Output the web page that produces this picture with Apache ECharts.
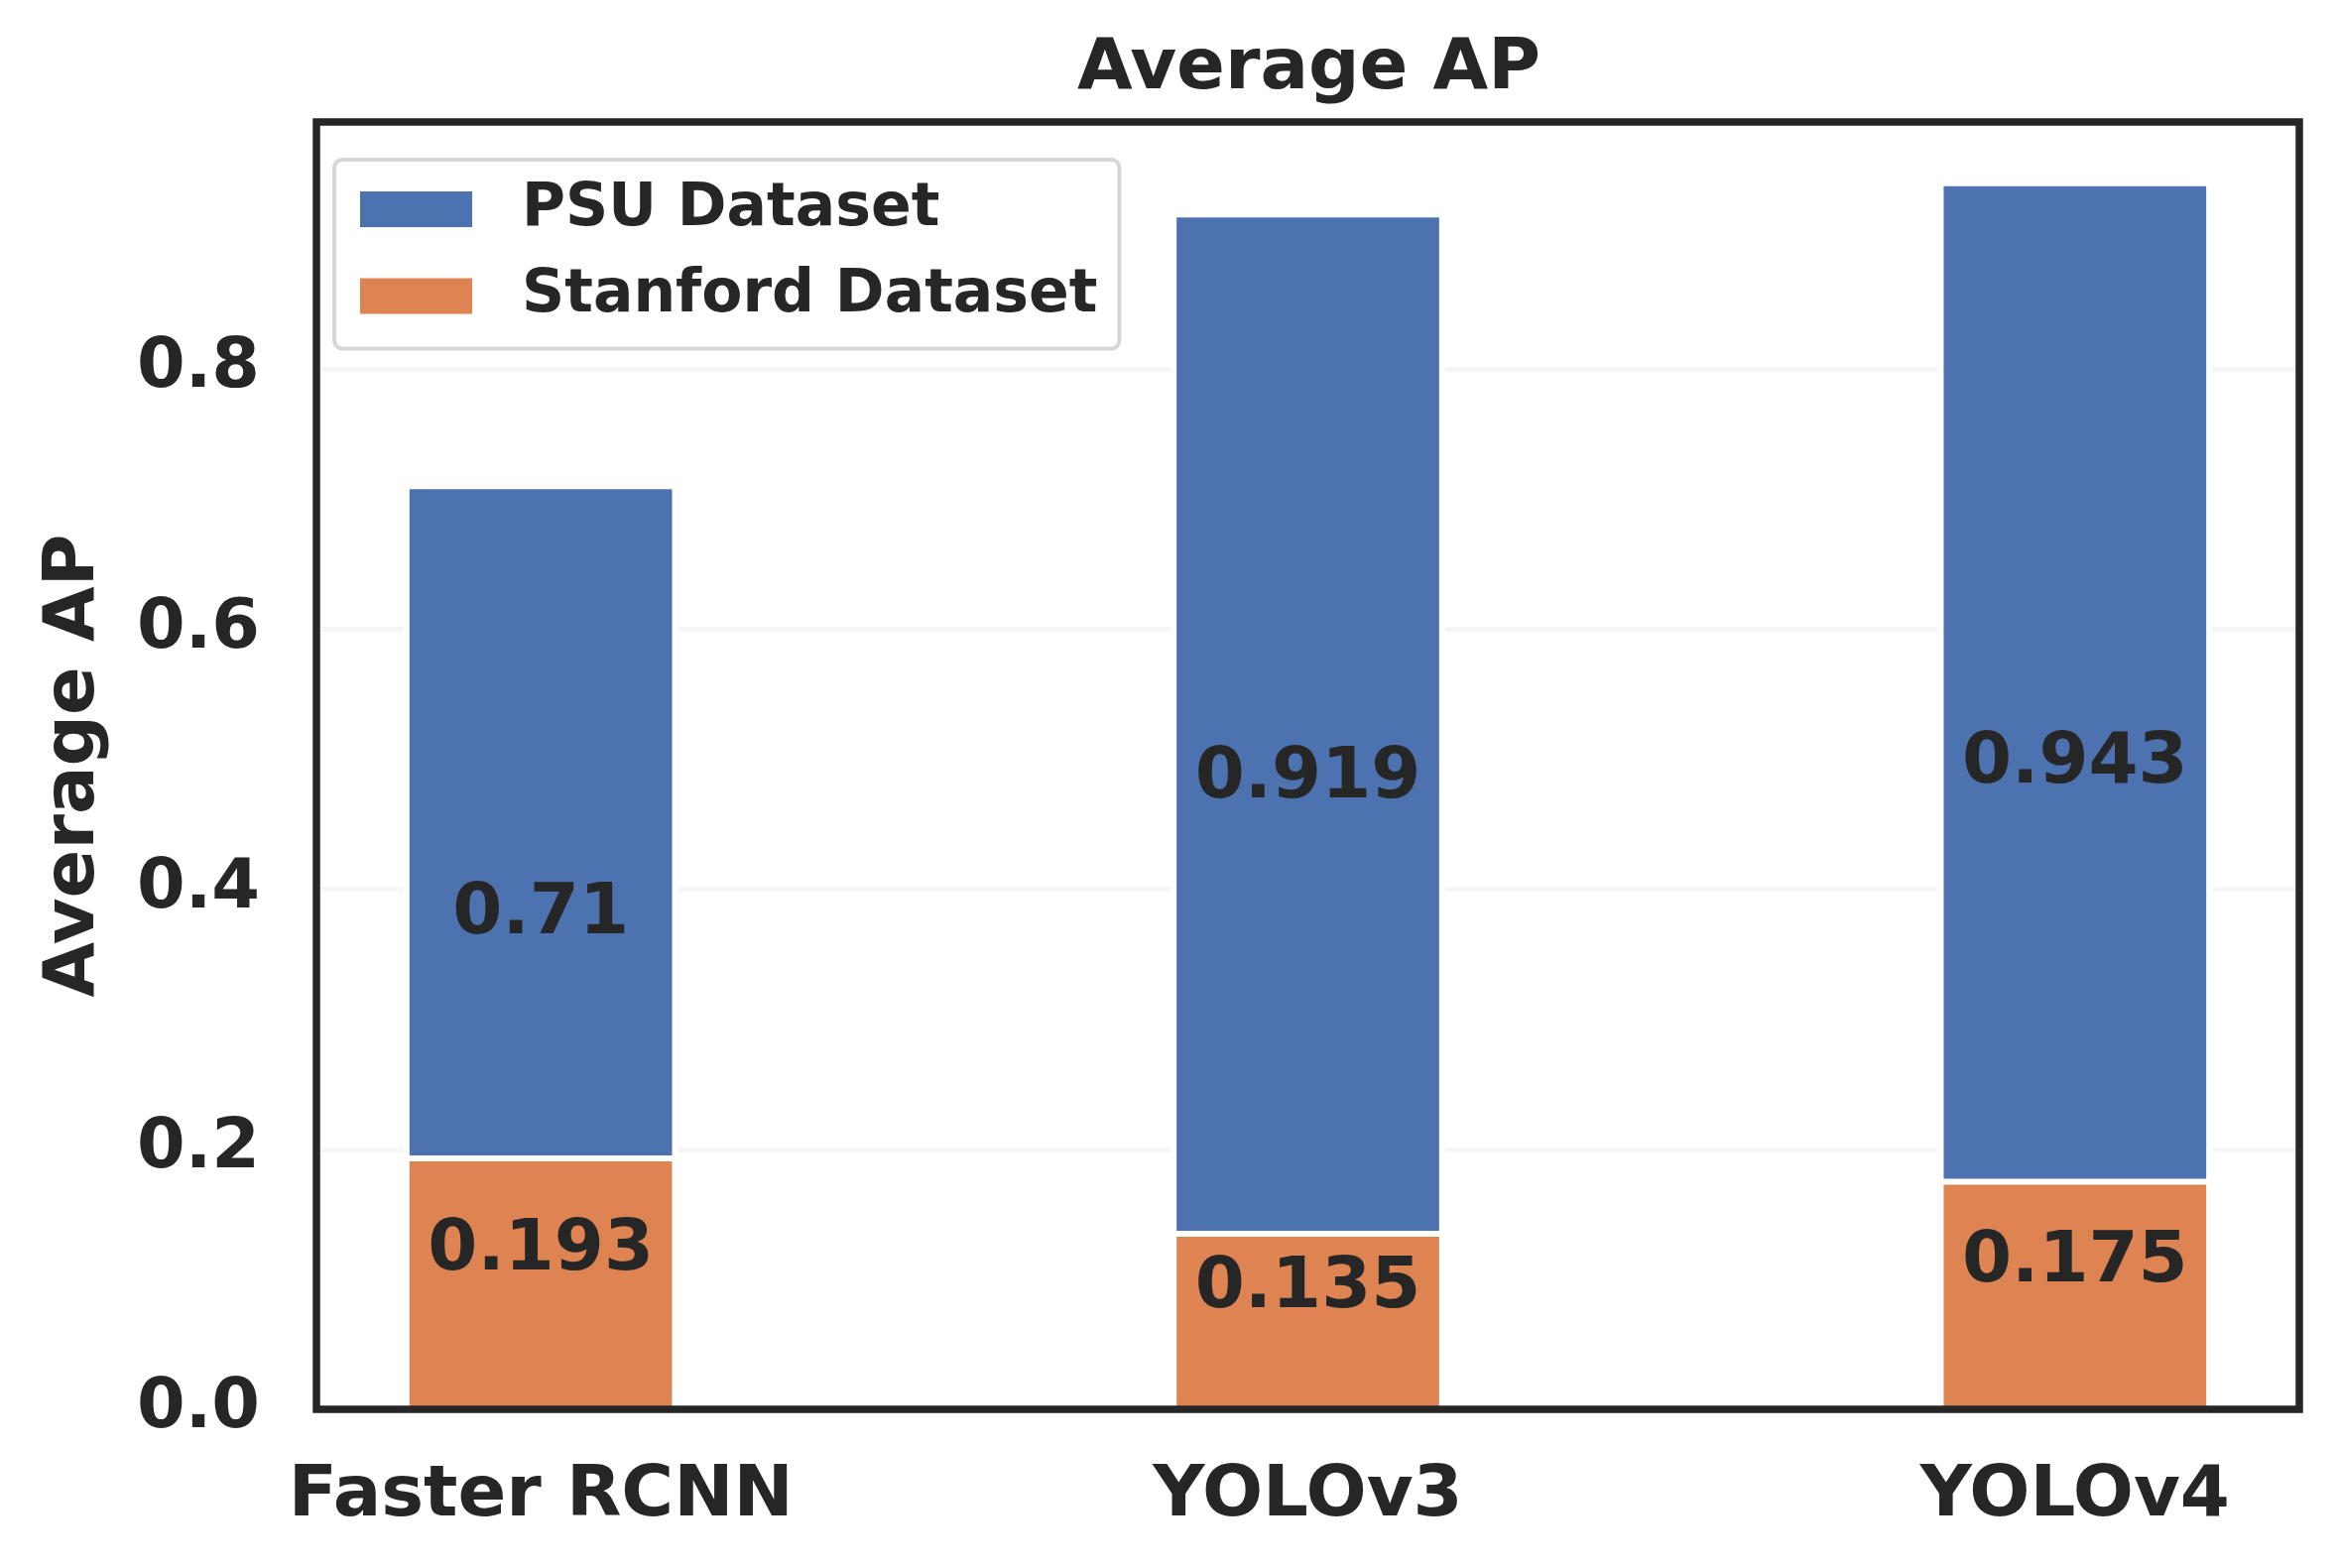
<!DOCTYPE html>
<html>
<head>
<meta charset="utf-8">
<script src="https://cdn.jsdelivr.net/npm/echarts@6/dist/echarts.min.js"></script>
<style>
html,body{margin:0;padding:0;background:#fff;}
#chart{width:2358px;height:1581px;}
</style>
</head>
<body>
<div id="chart"></div>
<script>
// ---- data ----
const categories = ['Faster RCNN', 'YOLOv3', 'YOLOv4'];
const psuValues = [0.71, 0.919, 0.943];
const stanfordValues = [0.193, 0.135, 0.175];
const seriesNames = ['PSU Dataset', 'Stanford Dataset'];
const yTicks = [0, 0.2, 0.4, 0.6, 0.8];

// ---- layout helpers (matplotlib-like margins) ----
const BAR_W = 0.35;
const xSpanData = (categories.length - 1) + BAR_W;
const xMin = -BAR_W / 2 - 0.05 * xSpanData;
const xMax = (categories.length - 1) + BAR_W / 2 + 0.05 * xSpanData;
const yMax = Math.max(...psuValues, ...stanfordValues) * 1.05;

const FONT = 'DejaVu Sans';
const TEXT = '#262626';
const BLUE = '#4c72b0';
const ORANGE = '#dd8452';

const psuData = psuValues.map((v, i) => [i, v]);
const stanData = stanfordValues.map((v, i) => [i, v]);

// bar drawn through the axes' scales, with a centered white edge (matplotlib style)
function makeRenderItem(color) {
  return function (params, api) {
    const x = api.value(0), y = api.value(1);
    const top = api.coord([x, y]);
    const base = api.coord([x, 0]);
    const w = api.size([BAR_W, 0])[0];
    return {
      type: 'rect',
      shape: {x: top[0] - w / 2, y: top[1], width: w, height: base[1] - top[1]},
      style: {fill: color, stroke: '#ffffff', lineWidth: 6},
      textContent: {
        type: 'text',
        style: {
          text: String(y),
          fontFamily: FONT, fontSize: 72, fontWeight: 'bold', fill: TEXT
        }
      },
      textConfig: {position: 'inside', offset: [0, -33]}
    };
  };
}

const chart = echarts.init(document.getElementById('chart'), null, {renderer: 'canvas'});
chart.setOption({
  backgroundColor: '#ffffff',
  animation: false,
  title: {
    text: 'Average AP',
    left: 1314.5,
    top: 29,
    textAlign: 'center',
    textStyle: {fontFamily: FONT, fontSize: 72, fontWeight: 'bold', color: TEXT}
  },
  legend: {
    orient: 'vertical',
    left: 337,
    top: 161,
    padding: [20, 22, 23, 26],
    itemGap: 27.5,
    itemWidth: 113,
    itemHeight: 36,
    icon: 'rect',
    backgroundColor: '#ffffff',
    borderColor: '#d6d6d6',
    borderWidth: 4,
    borderRadius: 8,
    itemStyle: {borderWidth: 0},
    textStyle: {fontFamily: FONT, fontSize: 60, fontWeight: 'bold', color: TEXT, lineHeight: 60, padding: [0, 0, 0, 45]},
    data: seriesNames
  },
  grid: {
    left: 319, top: 123, width: 1999, height: 1298,
    outerBoundsMode: 'none',
    containLabel: false,
    show: true,
    z: 10,
    backgroundColor: 'transparent',
    borderColor: TEXT,
    borderWidth: 7.5
  },
  xAxis: {
    type: 'value',
    min: xMin,
    max: xMax,
    axisLine: {show: false},
    axisTick: {show: false},
    splitLine: {show: false},
    axisLabel: {
      customValues: categories.map((c, i) => i),
      formatter: v => categories[Math.round(v)] || '',
      margin: 52,
      fontFamily: FONT, fontSize: 72, fontWeight: 'bold', color: TEXT
    }
  },
  yAxis: {
    type: 'value',
    min: 0,
    max: yMax,
    name: 'Average AP',
    nameLocation: 'middle',
    nameGap: 207.5,
    nameTextStyle: {fontFamily: FONT, fontSize: 72, fontWeight: 'bold', color: TEXT},
    axisLine: {show: false},
    axisTick: {show: false},
    splitLine: {show: true, lineStyle: {color: '#f6f6f6', width: 5}},
    axisLabel: {
      customValues: yTicks,
      formatter: v => v.toFixed(1),
      margin: 57,
      padding: [20, 0, 0, 0],
      fontFamily: FONT, fontSize: 70, fontWeight: 'bold', color: TEXT
    },
    interval: 0.2
  },
  series: [
    {
      name: seriesNames[0],
      type: 'custom',
      data: psuData,
      encode: {x: 0, y: 1},
      itemStyle: {color: BLUE},
      renderItem: makeRenderItem(BLUE)
    },
    {
      name: seriesNames[1],
      type: 'custom',
      data: stanData,
      encode: {x: 0, y: 1},
      itemStyle: {color: ORANGE},
      renderItem: makeRenderItem(ORANGE)
    }
  ]
});
</script>
</body>
</html>
